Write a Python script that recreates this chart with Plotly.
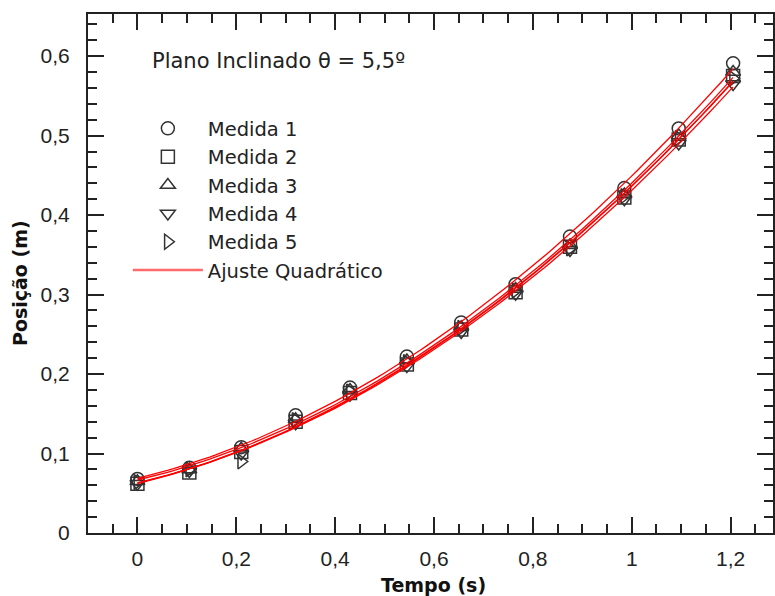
import numpy as np
import plotly.graph_objects as go

# Data
tempo = [0, 0.105, 0.21, 0.32, 0.43, 0.545, 0.655, 0.765, 0.875, 0.985, 1.095, 1.205]
medida1 = [0.068, 0.082, 0.108, 0.148, 0.183, 0.222, 0.265, 0.313, 0.373, 0.434, 0.509, 0.591]
medida2 = [0.062, 0.076, 0.102, 0.140, 0.176, 0.212, 0.256, 0.303, 0.360, 0.422, 0.495, 0.575]
medida3 = [0.065, 0.080, 0.106, 0.143, 0.180, 0.217, 0.259, 0.307, 0.362, 0.426, 0.500, 0.580]
medida4 = [0.062, 0.078, 0.100, 0.138, 0.174, 0.210, 0.253, 0.301, 0.356, 0.420, 0.490, 0.565]
medida5 = [0.064, 0.080, 0.090, 0.142, 0.178, 0.215, 0.258, 0.305, 0.358, 0.424, 0.497, 0.572]

series_names = ["Medida 1", "Medida 2", "Medida 3", "Medida 4", "Medida 5"]
series_values = [medida1, medida2, medida3, medida4, medida5]
symbols = ["circle-open", "square-open", "triangle-up-open", "triangle-down-open", "triangle-right-open"]

TICKFONT = "Liberation Sans, Arial, sans-serif"
TEXTFONT = "DejaVu Sans, Verdana, sans-serif"

fig = go.Figure()

for name, vals, sym in zip(series_names, series_values, symbols):
    fig.add_trace(go.Scatter(
        x=tempo, y=vals, mode="markers", name=name,
        marker=dict(symbol=sym, size=13, color="#333333", line=dict(width=1.5, color="#333333")),
    ))

t = np.array(tempo)
tgrid = np.linspace(t.min(), t.max(), 100)
for vals in series_values:
    coef = np.polyfit(t, np.array(vals), 2)
    fig.add_trace(go.Scatter(
        x=tgrid, y=np.polyval(coef, tgrid), mode="lines", showlegend=False,
        line=dict(color="#ff0000", width=1.3), hoverinfo="skip",
    ))

fig.add_trace(go.Scatter(
    x=[None], y=[None], mode="lines", name="Ajuste Quadrático",
    line=dict(color="#ff6a6a", width=2.5),
))

axis_common = dict(
    showline=True, linecolor="#222222", linewidth=2, mirror="ticks",
    ticks="inside", ticklen=16, tickwidth=2, tickcolor="#222222",
    showgrid=False, zeroline=False,
    tickfont=dict(family=TICKFONT, size=21, color="#222222"),
)

fig.update_xaxes(
    range=[-0.1, 1.2857], dtick=0.2, tick0=0,
    minor=dict(dtick=0.05, ticks="inside", ticklen=9, tickwidth=2, tickcolor="#222222", showgrid=False),
    ticklabelstandoff=6,
    **axis_common,
)
fig.update_yaxes(
    range=[0, 0.653], dtick=0.1, tick0=0,
    minor=dict(dtick=0.02, ticks="inside", ticklen=9, tickwidth=2, tickcolor="#222222", showgrid=False),
    ticklabelstandoff=12,
    **axis_common,
)

fig.add_annotation(
    text="Plano Inclinado θ = 5,5º", xref="paper", yref="paper",
    x=0.0902, y=0.909, xanchor="left", yanchor="middle", showarrow=False,
    font=dict(family=TEXTFONT, size=21, color="#222222"),
)
fig.add_annotation(
    text="<b>Posição (m)</b>", xref="paper", yref="paper",
    x=-0.099, y=0.482, xanchor="center", yanchor="middle", textangle=-90, showarrow=False,
    font=dict(family=TEXTFONT, size=19, color="#111111"),
)
fig.add_annotation(
    text="<b>Tempo (s)</b>", xref="paper", yref="paper",
    x=0.504, y=-0.1, xanchor="center", yanchor="middle", showarrow=False,
    font=dict(family=TEXTFONT, size=19, color="#111111"),
)

fig.update_layout(
    width=775, height=596,
    margin=dict(l=88, r=0, t=14, b=63),
    paper_bgcolor="white", plot_bgcolor="white",
    separators=",.",
    showlegend=True,
    legend=dict(
        x=0.0582, y=0.8166, xanchor="left", yanchor="top",
        bgcolor="rgba(0,0,0,0)", borderwidth=0,
        font=dict(family=TEXTFONT, size=19.5, color="#222222"),
        tracegroupgap=0, itemwidth=70,
    ),
)

fig.write_html("out.html")
